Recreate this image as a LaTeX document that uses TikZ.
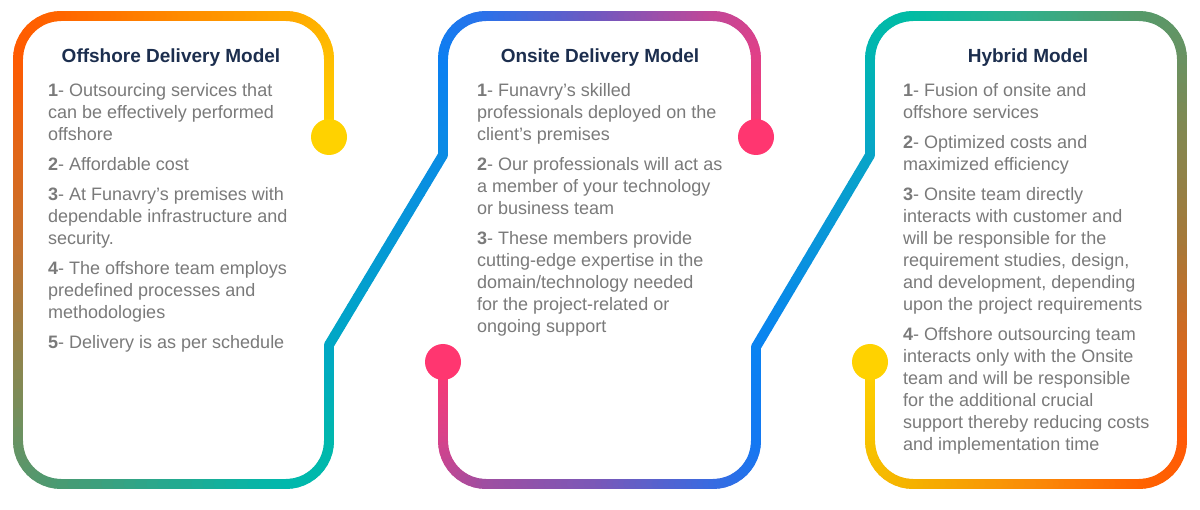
\documentclass[tikz,border=0pt]{standalone}
\usepackage{fontspec}
\setmainfont{Liberation Sans}
\definecolor{txtgray}{HTML}{7A7A7A}
\definecolor{navy}{HTML}{1C2E4E}
% chain 1 colours
\definecolor{aA}{HTML}{FFD200}
\definecolor{aB}{HTML}{FFC000}
\definecolor{aC}{HTML}{FFA800}
\definecolor{aCm}{HTML}{FF8A00}
\definecolor{aD}{HTML}{FF6600}
\definecolor{aE}{HTML}{FF5A00}
\definecolor{aEm}{HTML}{C47230}
\definecolor{aF}{HTML}{6A9262}
\definecolor{aG}{HTML}{4A9A72}
\definecolor{aH}{HTML}{00B8AC}
\definecolor{aI}{HTML}{00A8C4}
\definecolor{aJ}{HTML}{0A8CE4}
\definecolor{aK}{HTML}{0A80F2}
\definecolor{aL}{HTML}{2A72EA}
\definecolor{aLm}{HTML}{7058C0}
\definecolor{aM}{HTML}{C04898}
\definecolor{aN}{HTML}{E04088}
\definecolor{aO}{HTML}{F83A74}
\definecolor{pinkdot}{HTML}{FF3670}
\definecolor{yellowdot}{HTML}{FFD200}
% chain 2 colours
\definecolor{bA}{HTML}{FF3670}
\definecolor{bB}{HTML}{D8428A}
\definecolor{bC}{HTML}{A04EA0}
\definecolor{bCm}{HTML}{7A58B8}
\definecolor{bD}{HTML}{3A6AE0}
\definecolor{bE}{HTML}{1478F2}
\definecolor{bF}{HTML}{0A82F2}
\definecolor{bG}{HTML}{08A4C8}
\definecolor{bH}{HTML}{00B4B4}
\definecolor{bI}{HTML}{00BCA4}
\definecolor{bIm}{HTML}{30B08C}
\definecolor{bJ}{HTML}{549A6A}
\definecolor{bK}{HTML}{689262}
\definecolor{bKm}{HTML}{A87838}
\definecolor{bL}{HTML}{FF5A08}
\definecolor{bM}{HTML}{FF6200}
\definecolor{bMm}{HTML}{FA8C08}
\definecolor{bN}{HTML}{F5B000}
\definecolor{bO}{HTML}{F7C200}
\definecolor{bP}{HTML}{FFD000}
\tikzset{
  seg/.style={line width=10pt, line cap=round},
  txt/.style={inner sep=0pt, text=txtgray, font=\fontsize{18}{22}\selectfont, anchor=base west},
  ttl/.style={inner sep=0pt, text=navy, font=\fontsize{19}{22}\selectfont\bfseries, anchor=base},
  dotnode/.style={circle, inner sep=0pt, minimum size=36pt, draw=none}
}
\newcommand\gline[6]{%
  \foreach \k in {1,...,20}{%
    \pgfmathsetmacro\ta{(\k-1)/20}%
    \pgfmathsetmacro\tb{\k/20}%
    \pgfmathsetmacro\pc{100-100*(\k-0.5)/20}%
    \pgfmathsetmacro\xa{(#1)+((#3)-(#1))*\ta}%
    \pgfmathsetmacro\ya{(#2)+((#4)-(#2))*\ta}%
    \pgfmathsetmacro\xb{(#1)+((#3)-(#1))*\tb}%
    \pgfmathsetmacro\yb{(#2)+((#4)-(#2))*\tb}%
    \draw[seg,color=#5!\pc!#6] (\xa,\ya) -- (\xb,\yb);
  }}
\newcommand\garc[6]{%
  \foreach \k in {1,...,12}{%
    \pgfmathsetmacro\aa{(#3)+((#4)-(#3))*(\k-1)/12}%
    \pgfmathsetmacro\ab{(#3)+((#4)-(#3))*\k/12}%
    \pgfmathsetmacro\pc{100-100*(\k-0.5)/12}%
    \pgfmathsetmacro\xa{(#1)+43*cos(\aa)}%
    \pgfmathsetmacro\ya{(#2)+43*sin(\aa)}%
    \pgfmathsetmacro\xb{(#1)+43*cos(\ab)}%
    \pgfmathsetmacro\yb{(#2)+43*sin(\ab)}%
    \draw[seg,color=#5!\pc!#6] (\xa,\ya) -- (\xb,\yb);
  }}
\newcommand\txtline[4]{\node[txt] (#1) at (#2,#3) {#4};}
\begin{document}
\begin{tikzpicture}[x=1pt,y=-1pt]
\fill[white] (0,0) rectangle (1200,510);
\useasboundingbox (0,0) rectangle (1200,510);
% ---------- chain 1 ----------
\gline{329}{137}{329}{59}{aA}{aB}
\garc{286}{59}{0}{-90}{aB}{aC}
\gline{286}{16}{173}{16}{aC}{aCm}
\gline{173}{16}{61}{16}{aCm}{aD}
\garc{61}{59}{-90}{-180}{aD}{aE}
\gline{18}{59}{18}{250}{aE}{aEm}
\gline{18}{250}{18}{441}{aEm}{aF}
\garc{61}{441}{180}{90}{aF}{aG}
\gline{61}{484}{286}{484}{aG}{aH}
\garc{286}{441}{90}{0}{aH}{aH}
\gline{329}{441}{329}{345}{aH}{aI}
\gline{329}{345}{443}{155}{aI}{aJ}
\gline{443}{155}{443}{59}{aJ}{aK}
\garc{486}{59}{180}{270}{aK}{aL}
\gline{486}{16}{600}{16}{aL}{aLm}
\gline{600}{16}{713}{16}{aLm}{aM}
\garc{713}{59}{-90}{0}{aM}{aN}
\gline{756}{59}{756}{137}{aN}{aO}
% ---------- chain 2 ----------
\gline{443}{362}{443}{441}{bA}{bB}
\garc{486}{441}{180}{90}{bB}{bC}
\gline{486}{484}{600}{484}{bC}{bCm}
\gline{600}{484}{713}{484}{bCm}{bD}
\garc{713}{441}{90}{0}{bD}{bE}
\gline{756}{441}{756}{347}{bE}{bF}
\gline{756}{347}{870}{155}{bF}{bG}
\gline{870}{155}{870}{59}{bG}{bH}
\garc{913}{59}{180}{270}{bH}{bI}
\gline{913}{16}{1026}{16}{bI}{bIm}
\gline{1026}{16}{1139}{16}{bIm}{bJ}
\garc{1139}{59}{-90}{0}{bJ}{bK}
\gline{1182}{59}{1182}{250}{bK}{bKm}
\gline{1182}{250}{1182}{441}{bKm}{bL}
\garc{1139}{441}{0}{90}{bL}{bM}
\gline{1139}{484}{1026}{484}{bM}{bMm}
\gline{1026}{484}{913}{484}{bMm}{bN}
\garc{913}{441}{90}{180}{bN}{bO}
\gline{870}{441}{870}{362}{bO}{bP}
% ---------- dots ----------
\node[dotnode, fill=yellowdot] (dot1) at (329,137) {};
\node[dotnode, fill=pinkdot] (dot2) at (756,137) {};
\node[dotnode, fill=pinkdot] (dot3) at (443,362) {};
\node[dotnode, fill=yellowdot] (dot4) at (870,362) {};
% ---------- titles ----------
\node[ttl] (t1) at (171,62.5) {Offshore Delivery Model};
\node[ttl] (t2) at (600,62.5) {Onsite Delivery Model};
\node[ttl] (t3) at (1028,62.5) {Hybrid Model};
% ---------- panel 1 ----------
\txtline{pa1}{48}{97}{\textbf{1}- Outsourcing services that}
\txtline{pa2}{48}{119}{can be effectively performed}
\txtline{pa3}{48}{141}{offshore}
\txtline{pa4}{48}{171}{\textbf{2}- Affordable cost}
\txtline{pa5}{48}{201}{\textbf{3}- At Funavry’s premises with}
\txtline{pa6}{48}{223}{dependable infrastructure and}
\txtline{pa7}{48}{245}{security.}
\txtline{pa8}{48}{275}{\textbf{4}- The offshore team employs}
\txtline{pa9}{48}{297}{predefined processes and}
\txtline{pa10}{48}{319}{methodologies}
\txtline{pa11}{48}{349}{\textbf{5}- Delivery is as per schedule}
% ---------- panel 2 ----------
\txtline{pb1}{477}{97}{\textbf{1}- Funavry’s skilled}
\txtline{pb2}{477}{119}{professionals deployed on the}
\txtline{pb3}{477}{141}{client’s premises}
\txtline{pb4}{477}{171}{\textbf{2}- Our professionals will act as}
\txtline{pb5}{477}{193}{a member of your technology}
\txtline{pb6}{477}{215}{or business team}
\txtline{pb7}{477}{245}{\textbf{3}- These members provide}
\txtline{pb8}{477}{267}{cutting-edge expertise in the}
\txtline{pb9}{477}{289}{domain/technology needed}
\txtline{pb10}{477}{311}{for the project-related or}
\txtline{pb11}{477}{333}{ongoing support}
% ---------- panel 3 ----------
\txtline{pc1}{903}{97}{\textbf{1}- Fusion of onsite and}
\txtline{pc2}{903}{119}{offshore services}
\txtline{pc3}{903}{149}{\textbf{2}- Optimized costs and}
\txtline{pc4}{903}{171}{maximized efficiency}
\txtline{pc5}{903}{201}{\textbf{3}- Onsite team directly}
\txtline{pc6}{903}{223}{interacts with customer and}
\txtline{pc7}{903}{245}{will be responsible for the}
\txtline{pc8}{903}{267}{requirement studies, design,}
\txtline{pc9}{903}{289}{and development, depending}
\txtline{pc10}{903}{311}{upon the project requirements}
\txtline{pc11}{903}{341}{\textbf{4}- Offshore outsourcing team}
\txtline{pc12}{903}{363}{interacts only with the Onsite}
\txtline{pc13}{903}{385}{team and will be responsible}
\txtline{pc14}{903}{407}{for the additional crucial}
\txtline{pc15}{903}{429}{support thereby reducing costs}
\txtline{pc16}{903}{451}{and implementation time}
\end{tikzpicture}
\end{document}
